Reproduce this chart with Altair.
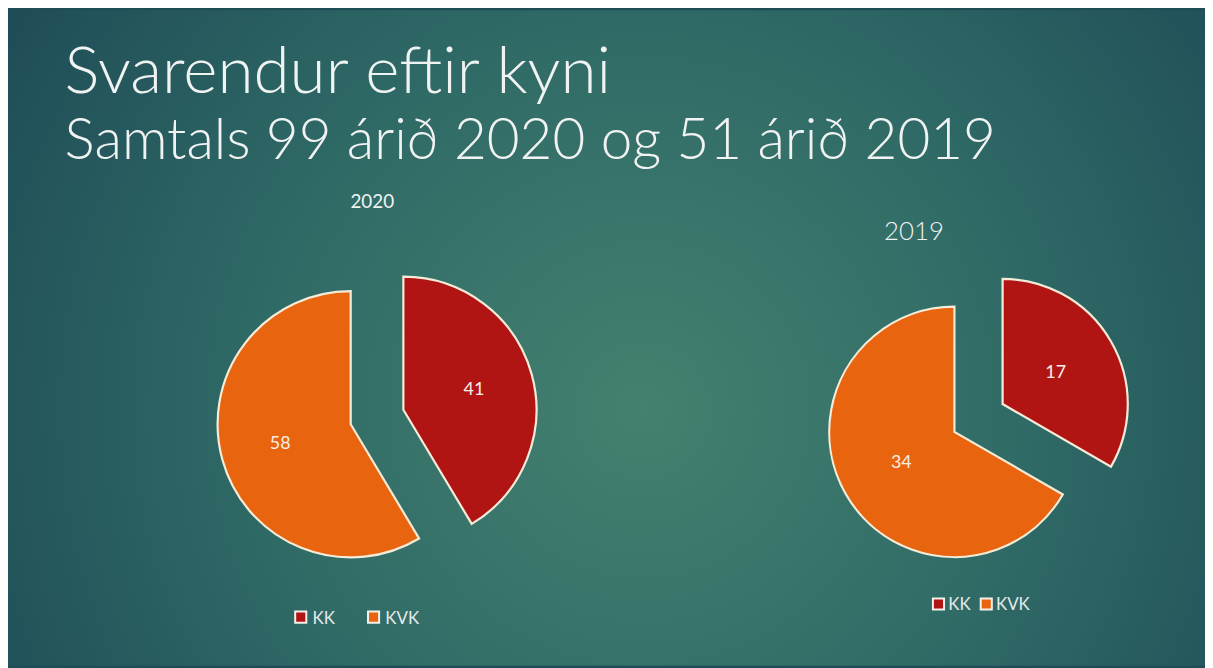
import altair as alt
import pandas as pd

# ---- data ----
years = ["2020", "2019"]
categories = ["KK", "KVK"]
values_2020 = [41, 58]
values_2019 = [17, 34]
title_line1 = "Svarendur eftir kyni"
title_line2 = "Samtals 99 árið 2020 og 51 árið 2019"

# ---- styling / layout ----
W, H = 1205, 660
colors = ["#b01514", "#e8640f"]
stroke_col = "#f4ecd9"
text_col = "#f1f3f3"
font = "Lato"

pie_layout = {
    "2020": dict(cx=371.5, cy=409.5, r=134, explode=27.5, frac=0.55),
    "2019": dict(cx=977.0, cy=410.5, r=126, explode=28.0, frac=0.49),
}
year_title_layout = {
    "2020": dict(x=366.7, y=198.7, size=19, weight=400),
    "2019": dict(x=912.0, y=231.0, size=26, weight=300),
}
legend_layout = {
    "2020": dict(xs=[294.7, 368.0], y=611.0, gap=11.8),
    "2019": dict(xs=[936.7, 984.8], y=597.8, gap=9.8),
}

rows = []
for yr, vals in zip(years, [values_2020, values_2019]):
    for i, (c, v) in enumerate(zip(categories, vals)):
        L = pie_layout[yr]
        rows.append(dict(year=yr, cat=c, value=v, order=i, cx=L["cx"], cy=L["cy"],
                         r=L["r"], explode=L["explode"], frac=L["frac"]))
df = pd.DataFrame(rows)

color_scale = alt.Scale(domain=categories, range=colors)

base = (
    alt.Chart(df)
    .transform_joinaggregate(total="sum(value)", groupby=["year"])
    .transform_window(cum="sum(value)", groupby=["year"],
                      sort=[alt.SortField("order")], frame=[None, 0])
    .transform_calculate(
        t0="2*PI*(datum.cum-datum.value)/datum.total",
        t1="2*PI*datum.cum/datum.total",
    )
    .transform_calculate(mid="(datum.t0+datum.t1)/2")
    .transform_calculate(
        vx="datum.cx + datum.explode*sin(datum.mid)",
        vy="datum.cy - datum.explode*cos(datum.mid)",
    )
    .transform_calculate(
        lx="datum.vx + datum.frac*datum.r*sin(datum.mid)",
        ly="datum.vy - datum.frac*datum.r*cos(datum.mid)",
    )
)

arcs = base.mark_arc(stroke=stroke_col, strokeWidth=2.2).encode(
    x=alt.X("vx:Q", scale=None),
    y=alt.Y("vy:Q", scale=None),
    theta=alt.Theta("t0:Q", scale=None, stack=None),
    theta2="t1:Q",
    radius=alt.Radius("r:Q", scale=None),
    color=alt.Color("cat:N", scale=color_scale, legend=None),
)

labels = base.mark_text(font=font, fontSize=18, color="#f7f0e6",
                        align="center", baseline="middle").encode(
    x=alt.X("lx:Q", scale=None),
    y=alt.Y("ly:Q", scale=None),
    text="value:Q",
)

# background
bg = alt.Chart(pd.DataFrame({"a": [0]})).mark_rect(
    fill={
        "gradient": "radial",
        "x1": 0.53, "y1": 0.56, "r1": 0.0,
        "x2": 0.53, "y2": 0.56, "r2": 0.72,
        "stops": [
            {"offset": 0.0, "color": "#44816f"},
            {"offset": 0.45, "color": "#2f6a66"},
            {"offset": 1.0, "color": "#1a4352"},
        ],
    }
).encode(x=alt.value(0), x2=alt.value(W), y=alt.value(0), y2=alt.value(H))

# titles
t1 = alt.Chart(pd.DataFrame({"t": [title_line1]})).mark_text(
    font=font, fontSize=66, fontWeight=300, color=text_col, align="left", baseline="alphabetic"
).encode(x=alt.value(57), y=alt.value(83), text="t:N")
t2 = alt.Chart(pd.DataFrame({"t": [title_line2]})).mark_text(
    font=font, fontSize=57, fontWeight=300, color=text_col, align="left", baseline="alphabetic"
).encode(x=alt.value(57), y=alt.value(150), text="t:N")

# year titles
yt_df = pd.DataFrame([dict(year=y, x=year_title_layout[y]["x"], y=year_title_layout[y]["y"])
                      for y in years])
year_titles = alt.layer(*[
    alt.Chart(yt_df[yt_df.year == y]).mark_text(
        font=font, fontSize=year_title_layout[y]["size"],
        fontWeight=year_title_layout[y]["weight"], color="#eef3f2",
        align="center", baseline="alphabetic"
    ).encode(x=alt.X("x:Q", scale=None), y=alt.Y("y:Q", scale=None), text="year:N")
    for y in years
])

# legends
leg_rows = []
for y in years:
    L = legend_layout[y]
    for c, xs in zip(categories, L["xs"]):
        leg_rows.append(dict(year=y, cat=c, sx=xs, sy=L["y"], tx=xs + L["gap"], ty=L["y"] + 6.5))
leg_df = pd.DataFrame(leg_rows)

leg_sq = alt.Chart(leg_df).mark_square(size=125, stroke="#f4f1ea", strokeWidth=2, opacity=1).encode(
    x=alt.X("sx:Q", scale=None), y=alt.Y("sy:Q", scale=None),
    color=alt.Color("cat:N", scale=color_scale, legend=None),
)
leg_tx = alt.Chart(leg_df).mark_text(font=font, fontSize=17, color="#e4e9ea",
                                     align="left", baseline="alphabetic").encode(
    x=alt.X("tx:Q", scale=None), y=alt.Y("ty:Q", scale=None), text="cat:N",
)

chart = alt.layer(bg, t1, t2, year_titles, arcs, labels, leg_sq, leg_tx).properties(
    width=W, height=H, padding=0,
    autosize=alt.AutoSizeParams(type="fit", contains="padding"),
    background="#1e4d55",
).configure_view(stroke=None)

chart.save("out.html", embed_options={"renderer": "svg", "actions": False})
